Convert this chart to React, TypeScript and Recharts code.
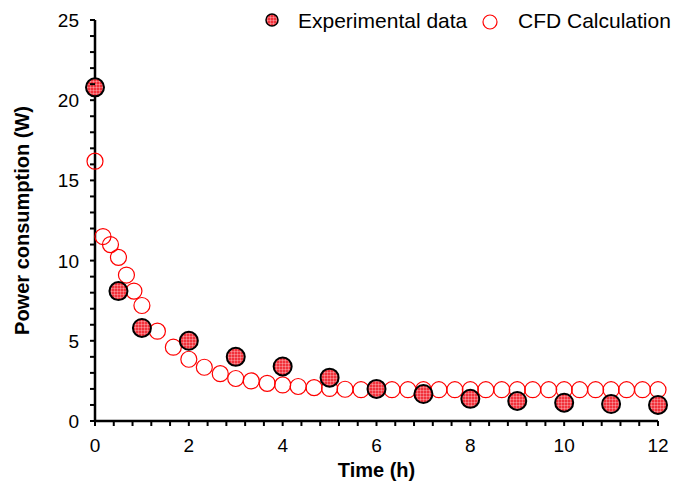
import { Legend, Scatter, ScatterChart, XAxis, YAxis } from 'recharts';

const FONT = '"Liberation Sans", Arial, sans-serif';

// measured power (W) against time (h)
const expTime = [0, 0.5, 1, 2, 3, 4, 5, 6, 7, 8, 9, 10, 11, 12];
const expPower = [20.8, 8.1, 5.8, 5.0, 4.0, 3.4, 2.7, 2.0, 1.68, 1.38, 1.25, 1.14, 1.06, 1.0];

// CFD result
const cfdTime = [
  0, 0.17, 0.33, 0.5, 0.67, 0.83, 1, 1.33, 1.67, 2, 2.33, 2.67, 3, 3.33, 3.67, 4, 4.33, 4.67, 5, 5.33,
  5.67, 6, 6.33, 6.67, 7, 7.33, 7.67, 8, 8.33, 8.67, 9, 9.33, 9.67, 10, 10.33, 10.67, 11, 11.33, 11.67, 12,
];
const cfdPower = [
  16.2, 11.5, 11.0, 10.2, 9.1, 8.1, 7.2, 5.6, 4.6, 3.85, 3.35, 2.95, 2.65, 2.5, 2.35, 2.25, 2.15, 2.08, 2.03, 1.98,
  1.95, 1.95, 1.95, 1.95, 1.95, 1.95, 1.95, 1.95, 1.95, 1.95, 1.95, 1.95, 1.95, 1.95, 1.95, 1.95, 1.95, 1.95, 1.95, 1.95,
];

const xTicks = [
  0, 0.4, 0.8, 1.2, 1.6, 2, 2.4, 2.8, 3.2, 3.6, 4, 4.4, 4.8, 5.2, 5.6, 6, 6.4, 6.8, 7.2, 7.6, 8, 8.4, 8.8, 9.2,
  9.6, 10, 10.4, 10.8, 11.2, 11.6, 12,
];
const xLabels = [0, 2, 4, 6, 8, 10, 12];
const yTicks = [0, 1, 2, 3, 4, 5, 6, 7, 8, 9, 10, 11, 12, 13, 14, 15, 16, 17, 18, 19, 20, 21, 22, 23, 24, 25];
const yLabels = [0, 5, 10, 15, 20, 25];

const expData = expTime.map((t, i) => ({ t, p: expPower[i] }));
const cfdData = cfdTime.map((t, i) => ({ t, p: cfdPower[i] }));

const RED = '#f2313b';

function FillPattern({ id }: { id: string }) {
  return (
    <defs>
      <pattern id={id} width={3} height={3} patternUnits="userSpaceOnUse">
        <rect width={3} height={3} fill={RED} />
        <line x1={0} y1={0.5} x2={3} y2={0.5} stroke="#fff" strokeOpacity={0.45} strokeWidth={0.6} />
        <line x1={0.5} y1={0} x2={0.5} y2={3} stroke="#fff" strokeOpacity={0.45} strokeWidth={0.6} />
      </pattern>
    </defs>
  );
}

function XTick(props: any) {
  const { x, y, payload } = props;
  const major = xLabels.includes(payload.value);
  return (
    <g>
      <line x1={x} x2={x} y1={y} y2={y + 5} stroke="#000" strokeWidth={2} />
      {major && (
        <text x={x} y={y + 31} textAnchor="middle" fontFamily={FONT} fontSize={19} fill="#000">
          {payload.value}
        </text>
      )}
    </g>
  );
}

function YTick(props: any) {
  const { x, y, payload } = props;
  const major = yLabels.includes(payload.value);
  return (
    <g>
      <line x1={x - 5} x2={x} y1={y} y2={y} stroke="#000" strokeWidth={2} />
      {major && (
        <text x={x - 16} y={y + 7} textAnchor="end" fontFamily={FONT} fontSize={19} fill="#000">
          {payload.value}
        </text>
      )}
    </g>
  );
}

function LegendBox() {
  return (
    <svg width={420} height={32} style={{ display: 'block' }}>
      <FillPattern id="expFillLegend" />
      <circle cx={14} cy={15} r={6} fill="url(#expFillLegend)" stroke="#000" strokeWidth={1.5} />
      <text x={40} y={23} fontFamily={FONT} fontSize={21} fill="#000">
        Experimental data
      </text>
      <circle cx={232} cy={17} r={7} fill="none" stroke="#ff0000" strokeWidth={1.2} />
      <text x={260} y={23} fontFamily={FONT} fontSize={21} fill="#000">
        CFD Calculation
      </text>
    </svg>
  );
}

export default function App() {
  return (
    <div style={{ position: 'absolute', left: 0, top: 0, width: 677, height: 481, background: '#fff' }}>
      <ScatterChart width={677} height={481} margin={{ top: 20, right: 19, bottom: 0, left: 0 }}>
        <FillPattern id="expFill" />
        <XAxis
          type="number"
          dataKey="t"
          domain={[0, 12]}
          ticks={xTicks}
          interval={0}
          height={60}
          tickSize={0}
          tickMargin={0}
          tickLine={false}
          tick={<XTick />}
          axisLine={{ stroke: '#000', strokeWidth: 2.5 }}
          label={{
            value: 'Time (h)',
            position: 'insideBottom',
            offset: 4,
            style: { fontFamily: FONT, fontSize: 20, fontWeight: 'bold', fill: '#000' },
          }}
        />
        <YAxis
          type="number"
          dataKey="p"
          domain={[0, 25]}
          ticks={yTicks}
          interval={0}
          width={95}
          tickSize={0}
          tickMargin={0}
          tickLine={false}
          tick={<YTick />}
          axisLine={{ stroke: '#000', strokeWidth: 2.5 }}
          label={{
            value: 'Power consumption (W)',
            angle: -90,
            position: 'insideLeft',
            offset: 22,
            style: { textAnchor: 'middle', fontFamily: FONT, fontSize: 20, fontWeight: 'bold', fill: '#000' },
          }}
        />
        <Legend
          layout="vertical"
          align="center"
          verticalAlign="middle"
          content={() => <LegendBox />}
          wrapperStyle={{ top: 5, left: 258, right: 'auto', bottom: 'auto', width: 'auto' }}
        />
        <Scatter
          name="CFD Calculation"
          data={cfdData}
          isAnimationActive={false}
          shape={(p: any) => <circle cx={p.cx} cy={p.cy} r={8} fill="none" stroke="#ff0000" strokeWidth={1.2} />}
        />
        <Scatter
          name="Experimental data"
          data={expData}
          isAnimationActive={false}
          shape={(p: any) => (
            <circle cx={p.cx} cy={p.cy} r={9} fill="url(#expFill)" stroke="#000" strokeWidth={2} />
          )}
        />
      </ScatterChart>
    </div>
  );
}
